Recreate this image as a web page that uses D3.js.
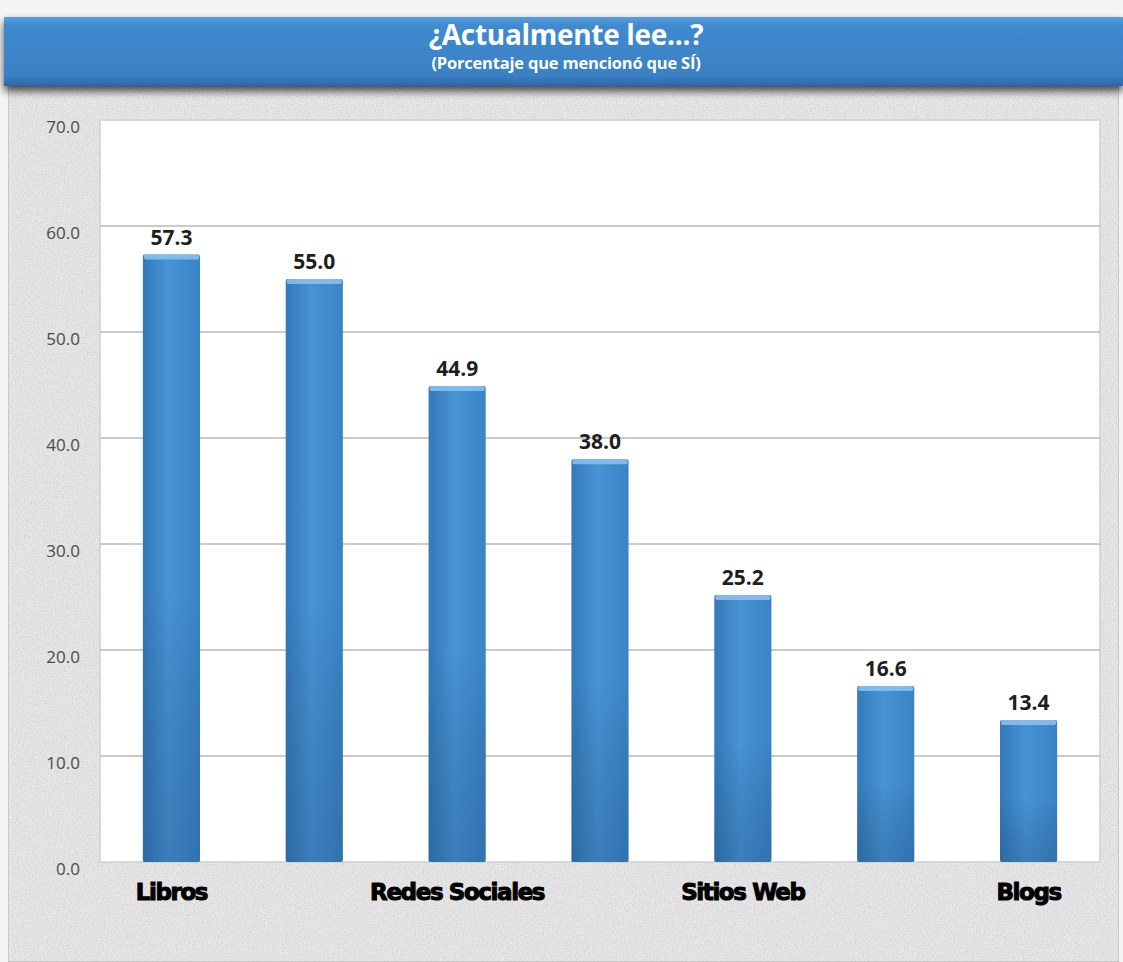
<!DOCTYPE html>
<html>
<head>
<meta charset="utf-8">
<script src="https://cdn.jsdelivr.net/npm/d3@7"></script>
<style>
  html, body { margin: 0; padding: 0; background: #ffffff; }
  svg { display: block; }
</style>
</head>
<body>
<svg id="chart" width="1123" height="962"></svg>
<script>
// Survey data: share of respondents who said they currently read each medium
const categories = ["Libros", "Periódicos", "Redes Sociales", "Revistas", "Sitios Web", "Historietas", "Blogs"];
const values = [57.3, 55.0, 44.9, 38.0, 25.2, 16.6, 13.4];
const shownLabels = ["Libros", "Redes Sociales", "Sitios Web", "Blogs"];
const yTicks = [0, 10, 20, 30, 40, 50, 60, 70];
const titleText = "¿Actualmente lee...?";
const subtitleText = "(Porcentaje que mencionó que SÍ)";

const W = 1123, H = 962;
const plot = { left: 100, right: 1100, top: 120, bottom: 862 };

const svg = d3.select("#chart");
const defs = svg.append("defs");

// Speckled grey paper texture for the panel
const tex = defs.append("filter").attr("id", "paper")
  .attr("x", 0).attr("y", 0).attr("width", "100%").attr("height", "100%");
tex.append("feTurbulence").attr("type", "fractalNoise")
  .attr("baseFrequency", 0.9).attr("numOctaves", 2).attr("seed", 7).attr("result", "noise");
tex.append("feColorMatrix").attr("in", "noise").attr("type", "matrix")
  .attr("values", "0 0 0 0 0.6  0 0 0 0 0.6  0 0 0 0 0.6  0 0 0 -1.6 1.02")
  .attr("result", "speck");
tex.append("feComposite").attr("in", "speck").attr("in2", "SourceGraphic").attr("operator", "in")
  .attr("result", "clipped");
tex.append("feMerge").call(m => {
  m.append("feMergeNode").attr("in", "SourceGraphic");
  m.append("feMergeNode").attr("in", "clipped");
});

// Banner gradient
const bannerGrad = defs.append("linearGradient").attr("id", "banner")
  .attr("x1", 0).attr("y1", 0).attr("x2", 0).attr("y2", 1);
bannerGrad.append("stop").attr("offset", "0%").attr("stop-color", "#5a9fdb");
bannerGrad.append("stop").attr("offset", "12%").attr("stop-color", "#3f8bd0");
bannerGrad.append("stop").attr("offset", "85%").attr("stop-color", "#3a80c4");
bannerGrad.append("stop").attr("offset", "100%").attr("stop-color", "#2b68a6");

const shadow = defs.append("filter").attr("id", "bshadow")
  .attr("x", "-5%").attr("y", "-20%").attr("width", "110%").attr("height", "160%");
shadow.append("feGaussianBlur").attr("in", "SourceAlpha").attr("stdDeviation", 4).attr("result", "b");
shadow.append("feOffset").attr("in", "b").attr("dy", 5).attr("result", "o");
shadow.append("feComponentTransfer").attr("in", "o").attr("result", "o2")
  .append("feFuncA").attr("type", "linear").attr("slope", 0.7);
shadow.append("feMerge").call(m => {
  m.append("feMergeNode").attr("in", "o2");
  m.append("feMergeNode").attr("in", "SourceGraphic");
});

// Bar gradient: lighter centre, darker edges, deeper toward the base
const barGrad = defs.append("linearGradient").attr("id", "bar")
  .attr("x1", 0).attr("y1", 0).attr("x2", 1).attr("y2", 0);
barGrad.append("stop").attr("offset", "0%").attr("stop-color", "#3479b8");
barGrad.append("stop").attr("offset", "45%").attr("stop-color", "#4793d6");
barGrad.append("stop").attr("offset", "100%").attr("stop-color", "#3a84c6");
const barShade = defs.append("linearGradient").attr("id", "barShade")
  .attr("x1", 0).attr("y1", 0).attr("x2", 0).attr("y2", 1);
barShade.append("stop").attr("offset", "0%").attr("stop-color", "#000").attr("stop-opacity", 0);
barShade.append("stop").attr("offset", "55%").attr("stop-color", "#000").attr("stop-opacity", 0);
barShade.append("stop").attr("offset", "100%").attr("stop-color", "#0a2a50").attr("stop-opacity", 0.2);

// Background panel
svg.append("rect").attr("x", 0).attr("y", 0).attr("width", W).attr("height", H).attr("fill", "#f4f4f4");
svg.append("rect").attr("x", 8).attr("y", 60).attr("width", W - 12).attr("height", H - 60)
  .attr("fill", "#e8e8e8").attr("stroke", "#bdbdbd").attr("stroke-width", 1.5)
  .attr("filter", "url(#paper)");

// Title banner
svg.append("rect").attr("x", 4).attr("y", 17).attr("width", W - 4).attr("height", 69)
  .attr("fill", "url(#banner)").attr("filter", "url(#bshadow)");
svg.append("text").attr("x", 566).attr("y", 45).attr("text-anchor", "middle")
  .attr("font-family", "'Open Sans', 'DejaVu Sans', sans-serif").attr("font-weight", 700)
  .attr("font-size", 28).attr("fill", "#ffffff").attr("letter-spacing", "-0.3")
  .text(titleText);
svg.append("text").attr("x", 566).attr("y", 69).attr("text-anchor", "middle")
  .attr("font-family", "'Open Sans', 'DejaVu Sans', sans-serif").attr("font-weight", 700)
  .attr("font-size", 16.5).attr("fill", "#ffffff").attr("letter-spacing", "-0.2")
  .text(subtitleText);

// Scales
const x = d3.scaleBand().domain(categories).range([plot.left, plot.right]).paddingInner(0.6).paddingOuter(0.3);
const y = d3.scaleLinear().domain([0, 70]).range([plot.bottom, plot.top]);

// Plot area
svg.append("rect").attr("x", plot.left).attr("y", plot.top)
  .attr("width", plot.right - plot.left).attr("height", plot.bottom - plot.top)
  .attr("fill", "#ffffff").attr("stroke", "#cfcfcf").attr("stroke-width", 1.5);

// Gridlines
svg.append("g")
  .selectAll("line").data(yTicks.filter(t => t > 0 && t < 70)).join("line")
  .attr("x1", plot.left).attr("x2", plot.right)
  .attr("y1", d => y(d)).attr("y2", d => y(d))
  .attr("stroke", "#b8b8b8").attr("stroke-width", 1.3);

// Y axis labels
const yAxis = svg.append("g").attr("transform", `translate(${plot.left},0)`)
  .call(d3.axisLeft(y).tickValues(yTicks).tickFormat(d3.format(".1f")).tickSize(0).tickPadding(20));
yAxis.select(".domain").remove();
yAxis.selectAll("text")
  .attr("font-family", "'Open Sans', 'DejaVu Sans', sans-serif")
  .attr("font-size", 17).attr("fill", "#4a4a4a").attr("dy", "0.75em");

// Bars
const bars = svg.append("g").selectAll("g.bar").data(categories).join("g").attr("class", "bar");
bars.append("rect")
  .attr("x", d => x(d)).attr("width", x.bandwidth())
  .attr("y", (d, i) => y(values[i])).attr("height", (d, i) => y(0) - y(values[i]))
  .attr("rx", 2)
  .attr("fill", "url(#bar)");
bars.append("rect")
  .attr("x", d => x(d)).attr("width", x.bandwidth())
  .attr("y", (d, i) => y(values[i])).attr("height", (d, i) => y(0) - y(values[i]))
  .attr("fill", "url(#barShade)");
// light bevel on the top edge
bars.append("rect")
  .attr("x", d => x(d) + 1).attr("width", x.bandwidth() - 2)
  .attr("y", (d, i) => y(values[i])).attr("height", 5).attr("rx", 2)
  .attr("fill", "#8cc3ef").attr("opacity", 0.85);

// Value labels
svg.append("g").selectAll("text").data(categories).join("text")
  .attr("x", d => x(d) + x.bandwidth() / 2)
  .attr("y", (d, i) => y(values[i]) - 10)
  .attr("text-anchor", "middle")
  .attr("font-family", "'Open Sans', 'DejaVu Sans', sans-serif").attr("font-weight", 700)
  .attr("font-size", 21).attr("fill", "#1e1e1e")
  .text((d, i) => d3.format(".1f")(values[i]));

// Category labels (every other one shown)
const xAxis = svg.append("g").attr("transform", `translate(0,${plot.bottom})`)
  .call(d3.axisBottom(x).tickValues(shownLabels).tickSize(0).tickPadding(22));
xAxis.select(".domain").remove();
xAxis.selectAll("text")
  .attr("font-family", "'DejaVu Sans', sans-serif").attr("font-weight", 700)
  .attr("font-size", 23).attr("fill", "#000000").attr("letter-spacing", "-1.4")
  .attr("stroke", "#000").attr("stroke-width", 1);
</script>
</body>
</html>
